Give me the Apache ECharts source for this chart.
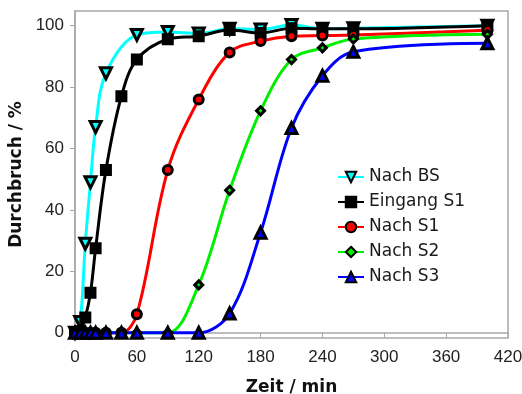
<!DOCTYPE html>
<html>
<head>
<meta charset="utf-8">
<script src="https://cdn.jsdelivr.net/npm/echarts@6/dist/echarts.min.js"></script>
<style>
    html, body {margin: 0; padding: 0; background: #fff;}
    #chart {width: 522px; height: 394px;}
</style>
</head>
<body>
<div id="chart"></div>
<script>
// Durchbruchskurven, Werte
var seriesNames = ['Nach BS', 'Eingang S1', 'Nach S1', 'Nach S2', 'Nach S3'];

var timeBS = [0, 5, 10, 15, 20, 30, 60, 90, 120, 150, 180, 210, 240, 270, 400];
var valBS = [0, 3.5, 29, 49, 67, 84.5, 97, 98, 97.5, 99, 98.8, 100.2, 99, 99.2, 100];

var timeS1in = [0, 5, 10, 15, 20, 30, 45, 60, 90, 120, 150, 180, 210, 240, 270, 400];
var valS1in = [0, 0.5, 5, 13, 27.5, 53, 77, 89, 95.6, 96.6, 98.6, 97.6, 99.2, 99, 99, 100];

var timeS1 = [0, 5, 10, 15, 20, 30, 45, 60, 90, 120, 150, 180, 210, 240, 270, 400];
var valS1 = [0, 0, 0, 0, 0, 0, 0, 6, 53, 76, 91.3, 95, 96.6, 96.8, 97, 98.5];

var timeS2 = [0, 5, 10, 15, 20, 30, 45, 60, 90, 120, 150, 180, 210, 240, 270, 400];
var valS2 = [0, 0, 0, 0, 0, 0, 0, 0, 0, 15.6, 46.4, 72.3, 89, 92.8, 95.7, 97.2];

var timeS3 = [0, 5, 10, 15, 20, 30, 45, 60, 90, 120, 150, 180, 210, 240, 270, 400];
var valS3 = [0, 0, 0, 0, 0, 0, 0, 0, 0, 0, 6.3, 32.6, 66.7, 83.7, 91.5, 94.3];

var xTicks = [0, 60, 120, 180, 240, 300, 360, 420];
var yTicks = [0, 20, 40, 60, 80, 100];

var colors = ['#00ffff', '#000000', '#ff0000', '#00ee00', '#0000ff'];

var pairs = function (xs, ys) {
    return xs.map(function (x, i) {
        return [x, ys[i]];
    });
};

var makeSeries = function (name, color, data, symbol, size, rotate) {
    return {
        name: name,
        type: 'line',
        smooth: 0.35,
        data: data,
        symbol: symbol,
        symbolSize: size,
        symbolRotate: rotate || 0,
        lineStyle: {color: color, width: 3},
        itemStyle: {color: color, borderColor: '#000', borderWidth: 3},
        emphasis: {disabled: true},
        z: 2
    };
};

var myChart = echarts.init(document.getElementById('chart'), null, {renderer: 'canvas'});

var option = {
    animation: false,
    color: colors,
    grid: {
        left: 75, right: 14, top: 11, bottom: 56,
        outerBoundsMode: 'none',
        show: true, borderColor: '#a8a8a8', borderWidth: 1.5
    },
    legend: {
        orient: 'vertical',
        left: 332,
        top: 162,
        itemWidth: 26,
        itemHeight: 13,
        itemGap: 5,
        data: seriesNames,
        textStyle: {fontFamily: 'DejaVu Sans', fontSize: 17, color: '#1a1a1a', lineHeight: 20}
    },
    xAxis: {
        type: 'value',
        min: 0,
        max: 420,
        interval: 60,
        name: 'Zeit / min',
        nameLocation: 'middle',
        nameGap: 41,
        nameTextStyle: {fontFamily: 'DejaVu Sans', fontWeight: 'bold', fontSize: 17, color: '#111'},
        axisLine: {lineStyle: {color: '#a8a8a8', width: 1.5}},
        axisTick: {show: true, length: 5, lineStyle: {color: '#a8a8a8'}, customValues: xTicks},
        axisLabel: {fontFamily: 'Liberation Sans', fontSize: 17, color: '#222', margin: 11, customValues: xTicks},
        splitLine: {show: false}
    },
    yAxis: {
        type: 'value',
        min: -1.7,
        max: 104.8,
        name: 'Durchbruch / %',
        nameLocation: 'middle',
        nameGap: 46,
        nameTextStyle: {fontFamily: 'DejaVu Sans', fontWeight: 'bold', fontSize: 17, color: '#111'},
        axisLine: {show: true, lineStyle: {color: '#a8a8a8', width: 1.5}},
        axisTick: {show: true, length: 5, lineStyle: {color: '#a8a8a8'}, customValues: yTicks},
        axisLabel: {fontFamily: 'Liberation Sans', fontSize: 17, color: '#222', margin: 11, customValues: yTicks},
        splitLine: {show: false}
    },
    series: [
        makeSeries(seriesNames[0], colors[0], pairs(timeBS, valBS), 'triangle', 11, 180),
        makeSeries(seriesNames[1], colors[1], pairs(timeS1in, valS1in), 'rect', 9),
        makeSeries(seriesNames[2], colors[2], pairs(timeS1, valS1), 'circle', 9),
        makeSeries(seriesNames[3], colors[3], pairs(timeS2, valS2), 'diamond', 8),
        makeSeries(seriesNames[4], colors[4], pairs(timeS3, valS3), 'triangle', 11)
    ]
};
myChart.setOption(option);
</script>
</body>
</html>
